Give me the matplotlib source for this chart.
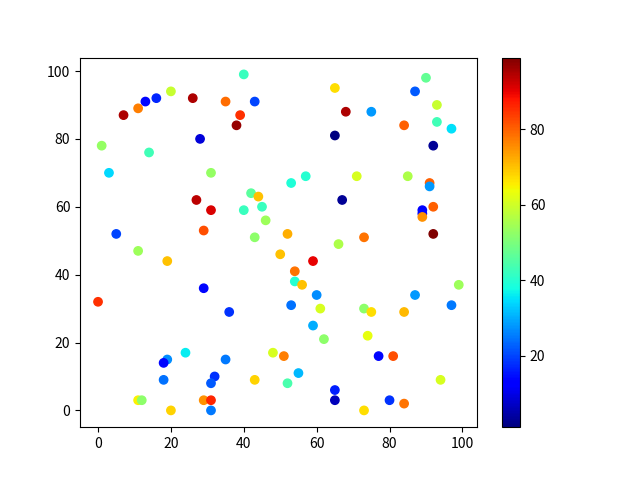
import matplotlib
matplotlib.use("Agg")
import matplotlib.pyplot as plt
import numpy as np

plt.rcParams['font.family'] = ['Noto Sans CJK SC', 'DejaVu Sans']
plt.rcParams['axes.unicode_minus'] = False

x = [40, 20, 16, 13, 26, 35, 43, 11, 7, 39,
     38, 28, 1, 14, 3, 31, 42, 44, 27, 45,
     40, 31, 46, 29, 5, 43, 52, 90, 65, 87,
     93, 68, 75, 84, 93, 97, 65, 92, 57, 53,
     71, 85, 91, 91, 67, 92, 89, 89, 89, 73,
     66, 92, 11, 19, 50, 29, 0, 36, 24, 48,
     51, 19, 18, 35, 18, 32, 31, 43, 52, 11,
     12, 29, 31, 20, 31, 59, 54, 54, 56, 99,
     60, 87, 53, 97, 61, 73, 75, 84, 59, 62,
     74, 77, 81, 55, 94, 65, 65, 80, 84, 73]
y = [99, 94, 92, 91, 92, 91, 91, 89, 87, 87,
     84, 80, 78, 76, 70, 70, 64, 63, 62, 60,
     59, 59, 56, 53, 52, 51, 52, 98, 95, 94,
     90, 88, 88, 84, 85, 83, 81, 78, 69, 67,
     69, 69, 67, 66, 62, 60, 59, 58, 57, 51,
     49, 52, 47, 44, 46, 36, 32, 29, 17, 17,
     16, 15, 14, 15, 9, 10, 8, 9, 8, 3,
     3, 3, 3, 0, 0, 44, 41, 38, 37, 37,
     34, 34, 31, 31, 30, 30, 29, 29, 25, 21,
     22, 16, 16, 11, 9, 6, 3, 3, 2, 0]
c = [42, 59, 17, 14, 95, 79, 20, 77, 95, 85,
     97, 9, 53, 43, 34, 53, 46, 70, 94, 42,
     42, 91, 54, 82, 20, 52, 72, 47, 67, 22,
     59, 95, 28, 80, 43, 35, 1, 3, 40, 39,
     61, 56, 80, 28, 3, 80, 13, 14, 75, 78,
     56, 99, 54, 70, 70, 14, 85, 18, 36, 61,
     77, 27, 14, 25, 24, 18, 22, 68, 44, 65,
     52, 75, 86, 68, 25, 90, 78, 40, 70, 54,
     27, 28, 24, 25, 61, 52, 67, 71, 30, 52,
     63, 14, 82, 31, 61, 16, 6, 18, 78, 67]

fig, ax = plt.subplots(figsize=(6.4, 4.8), dpi=100)
sc = ax.scatter(x, y, c=c, cmap='jet')
fig.colorbar(sc, ax=ax)
fig.savefig('out.png', dpi=100)
